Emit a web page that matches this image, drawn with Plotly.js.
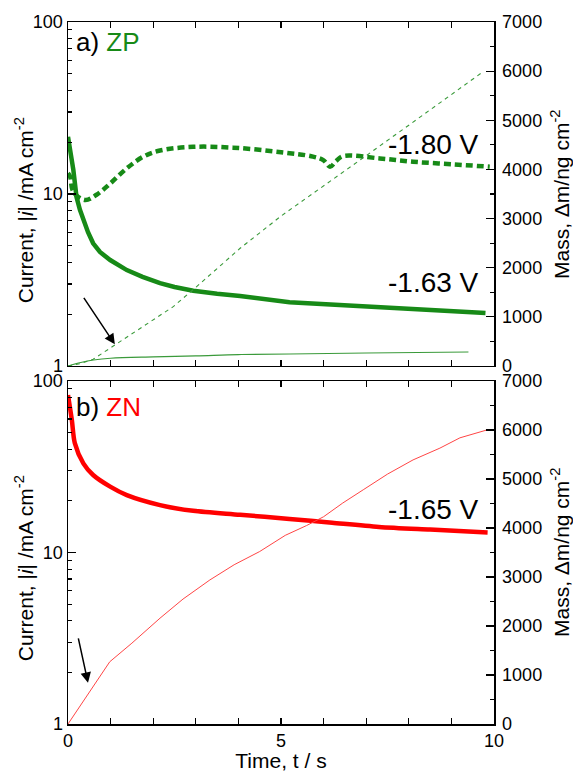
<!DOCTYPE html>
<html>
<head>
<meta charset="utf-8">
<script src="https://cdn.plot.ly/plotly-3.0.1.min.js"></script>
<style>html,body{margin:0;padding:0;background:#fff}#chart{width:573px;height:772px}</style>
</head>
<body>
<div id="chart"></div>
<script>
// Panel a (ZP) – current at -1.63 V (thick solid)
var tA163 = [0, 0.03, 0.07, 0.125, 0.2, 0.28, 0.36, 0.47, 0.59, 0.75, 0.99, 1.18, 1.38, 1.75, 2.16, 2.5, 2.94, 3.5, 4.04, 5.2, 6.2, 7.3, 8.5, 9.8];
var iA163 = [21.5, 19.8, 16.8, 13.8, 9.6, 8.1, 7.06, 6.0, 5.17, 4.6, 4.13, 3.84, 3.61, 3.3, 3.03, 2.88, 2.74, 2.63, 2.55, 2.35, 2.28, 2.2, 2.1, 2.03];
// Panel a – current at -1.80 V (thick dashed)
var tA180 = [0, 0.05, 0.125, 0.4, 0.67, 0.99, 1.38, 1.77, 2.16, 2.94, 3.87, 5.0, 5.75, 6.0, 6.15, 6.3, 6.45, 7.32, 8.1, 9.0, 9.9];
var iA180 = [13.2, 12.6, 10.3, 9.23, 9.9, 11.5, 14.1, 16.5, 17.9, 18.8, 18.6, 17.5, 16.5, 15.7, 14.4, 15.6, 16.6, 16.1, 15.4, 14.9, 14.4];
// Panel a – mass at -1.80 V (thin dashed)
var tAm180 = [0, 0.3, 0.59, 1.1, 1.77, 2.47, 3.0, 4.04, 5.0, 6.0, 7.0, 8.0, 9.0, 9.74];
var mA180 = [0, 50, 136, 427, 800, 1207, 1600, 2395, 3050, 3660, 4280, 4900, 5520, 5985];
// Panel a – mass at -1.63 V (thin solid)
var tAm163 = [0, 0.3, 0.6, 1.0, 2.0, 3.0, 4.0, 5.2, 7.0, 9.4];
var mA163 = [0, 70, 120, 157, 185, 205, 232, 245, 265, 285];
// Panel b (ZN) – current at -1.65 V (thick solid)
var tB = [0, 0.09, 0.16, 0.36, 0.59, 0.99, 1.38, 2.16, 2.94, 4.04, 5.2, 6.2, 7.3, 8.5, 9.85];
var iB = [82.8, 59.3, 43.4, 33.1, 28.3, 24.2, 21.6, 18.9, 17.5, 16.6, 15.7, 14.9, 14.1, 13.6, 13.1];
// Panel b – mass (thin solid)
var tBm = [0, 0.52, 0.98, 1.5, 2.16, 2.7, 3.33, 3.9, 4.5, 5.1, 5.6, 6.0, 6.45, 6.93, 7.5, 8.1, 8.73, 9.2, 9.83];
var mB = [0, 680, 1270, 1650, 2160, 2550, 2940, 3250, 3520, 3850, 4050, 4230, 4510, 4780, 5100, 5390, 5630, 5840, 6000];

// Tick values / labels
var timeTicks = [0, 1, 2, 3, 4, 5, 6, 7, 8, 9, 10];
var timeTickText = ['0', '', '', '', '', '5', '', '', '', '', '10'];
var logMinor = [2, 3, 4, 5, 6, 7, 8, 9, 20, 30, 40, 50, 60, 70, 80, 90];
var massMinor = [500, 1500, 2500, 3500, 4500, 5500, 6500];

var green = '#178a17', greenThin = '#3a9a3a', red = '#ff0000', redThin = '#ff4545';
var FONT = 'Liberation Sans, Arial, sans-serif';
var TICKFONT = {size: 18, color: '#000', family: FONT};
var TITLEFONT = {size: 21, color: '#000', family: FONT};
var currentTitle = 'Current, |<i>i</i>| /mA cm<sup>-2</sup>';
var massTitle = 'Mass, Δm/ng cm<sup>-2</sup>';

var traces = [
  {x: tAm180, y: mA180, xaxis: 'x', yaxis: 'y2', mode: 'lines', line: {color: greenThin, width: 1.1, dash: '4px,4px'}},
  {x: tAm163, y: mA163, xaxis: 'x', yaxis: 'y2', mode: 'lines', line: {color: greenThin, width: 1.1, shape: 'spline'}},
  {x: tA163, y: iA163, xaxis: 'x', yaxis: 'y', mode: 'lines', line: {color: green, width: 4.5}},
  {x: tA180, y: iA180, xaxis: 'x', yaxis: 'y', mode: 'lines', line: {color: green, width: 4.5, dash: '7px,4px', shape: 'spline'}},
  {x: tBm, y: mB, xaxis: 'x2', yaxis: 'y4', mode: 'lines', line: {color: redThin, width: 1}},
  {x: tB, y: iB, xaxis: 'x2', yaxis: 'y3', mode: 'lines', line: {color: red, width: 4.5, shape: 'spline', smoothing: 0.8}},
  // empty traces that carry the minor-tick overlay axes
  {x: [], y: [], xaxis: 'x', yaxis: 'y5', mode: 'lines', hoverinfo: 'skip'},
  {x: [], y: [], xaxis: 'x', yaxis: 'y6', mode: 'lines', hoverinfo: 'skip'},
  {x: [], y: [], xaxis: 'x2', yaxis: 'y7', mode: 'lines', hoverinfo: 'skip'},
  {x: [], y: [], xaxis: 'x2', yaxis: 'y8', mode: 'lines', hoverinfo: 'skip'}
];

function xAx(extra) {
  return Object.assign({
    range: [0, 10], tickmode: 'array', tickvals: timeTicks, ticktext: timeTickText,
    ticks: 'inside', ticklen: 6, tickwidth: 1.2, tickcolor: '#000',
    showline: true, linecolor: '#000', linewidth: 1.5, mirror: 'ticks', showgrid: false, zeroline: false,
    tickfont: TICKFONT
  }, extra);
}
function logAx(extra) {
  return Object.assign({
    type: 'log', range: [0, 2], dtick: 1,
    ticks: 'inside', ticklen: 8, tickwidth: 1.2, tickcolor: '#000',
    showline: true, linecolor: '#000', linewidth: 1.5, showgrid: false, zeroline: false,
    tickfont: TICKFONT
  }, extra);
}
function massAx(extra) {
  return Object.assign({
    side: 'right', range: [0, 7000], dtick: 1000, ticks: 'inside', ticklen: 8, tickwidth: 1.2, tickcolor: '#000',
    showline: true, linecolor: '#000', linewidth: 1.5, showgrid: false, zeroline: false,
    tickfont: TICKFONT, ticklabelstandoff: 3
  }, extra);
}
function minorAx(extra) {
  return Object.assign({
    tickmode: 'array', ticks: 'inside', ticklen: 4, tickwidth: 1.2, tickcolor: '#000',
    showticklabels: false, showline: false, showgrid: false, zeroline: false
  }, extra);
}
function vTitle(text, x, y) {
  return {xref: 'paper', yref: 'paper', x: x, y: y, xanchor: 'center', yanchor: 'middle', textangle: -90,
          showarrow: false, text: text, font: TITLEFONT};
}

var layout = {
  width: 573, height: 772,
  margin: {l: 68, r: 79, t: 22, b: 48},
  paper_bgcolor: '#fff', plot_bgcolor: '#fff',
  showlegend: false,
  font: {family: FONT, color: '#000'},
  xaxis: xAx({domain: [0, 1], anchor: 'y', showticklabels: false}),
  yaxis: logAx({domain: [0.51, 1], anchor: 'x'}),
  yaxis2: massAx({overlaying: 'y', anchor: 'x'}),
  xaxis2: xAx({domain: [0, 1], anchor: 'y3', title: {text: 'Time, t / s', font: TITLEFONT, standoff: 6}}),
  yaxis3: logAx({domain: [0, 0.4886], anchor: 'x2'}),
  yaxis4: massAx({overlaying: 'y3', anchor: 'x2'}),
  yaxis5: minorAx({overlaying: 'y', anchor: 'x', side: 'left', type: 'log', range: [0, 2], tickvals: logMinor}),
  yaxis6: minorAx({overlaying: 'y', anchor: 'x', side: 'right', range: [0, 7000], tickvals: massMinor}),
  yaxis7: minorAx({overlaying: 'y3', anchor: 'x2', side: 'left', type: 'log', range: [0, 2], tickvals: logMinor}),
  yaxis8: minorAx({overlaying: 'y3', anchor: 'x2', side: 'right', range: [0, 7000], tickvals: massMinor}),
  annotations: [
    vTitle(currentTitle, -0.103, 0.732),
    vTitle(currentTitle, -0.103, 0.222),
    vTitle(massTitle, 1.155, 0.7536),
    vTitle(massTitle, 1.155, 0.2436),
    {xref: 'paper', yref: 'paper', x: 0.013, y: 0.971, xanchor: 'left', yanchor: 'middle', showarrow: false,
     text: 'a) <span style="color:' + green + '">ZP</span>', font: {size: 26, color: '#000', family: FONT}},
    {xref: 'paper', yref: 'paper', x: 0.013, y: 0.4516, xanchor: 'left', yanchor: 'middle', showarrow: false,
     text: 'b) <span style="color:' + red + '">ZN</span>', font: {size: 26, color: '#000', family: FONT}},
    {xref: 'paper', yref: 'paper', x: 0.859, y: 0.826, xanchor: 'center', yanchor: 'middle', showarrow: false,
     text: '-1.80 V', font: {size: 28, color: '#000', family: FONT}},
    {xref: 'paper', yref: 'paper', x: 0.859, y: 0.629, xanchor: 'center', yanchor: 'middle', showarrow: false,
     text: '-1.63 V', font: {size: 28, color: '#000', family: FONT}},
    {xref: 'paper', yref: 'paper', x: 0.859, y: 0.306, xanchor: 'center', yanchor: 'middle', showarrow: false,
     text: '-1.65 V', font: {size: 28, color: '#000', family: FONT}},
    {xref: 'x', yref: 'y2', x: 1.1, y: 440, ax: -32, ay: -48, showarrow: true, arrowhead: 2, arrowsize: 1.4,
     arrowwidth: 1.5, arrowcolor: '#000', text: ''},
    {xref: 'x2', yref: 'y4', x: 0.47, y: 840, ax: -10, ay: -46, showarrow: true, arrowhead: 2, arrowsize: 1.4,
     arrowwidth: 1.5, arrowcolor: '#000', text: ''}
  ]
};

Plotly.newPlot('chart', traces, layout, {displayModeBar: false, staticPlot: true});
</script>
</body>
</html>
